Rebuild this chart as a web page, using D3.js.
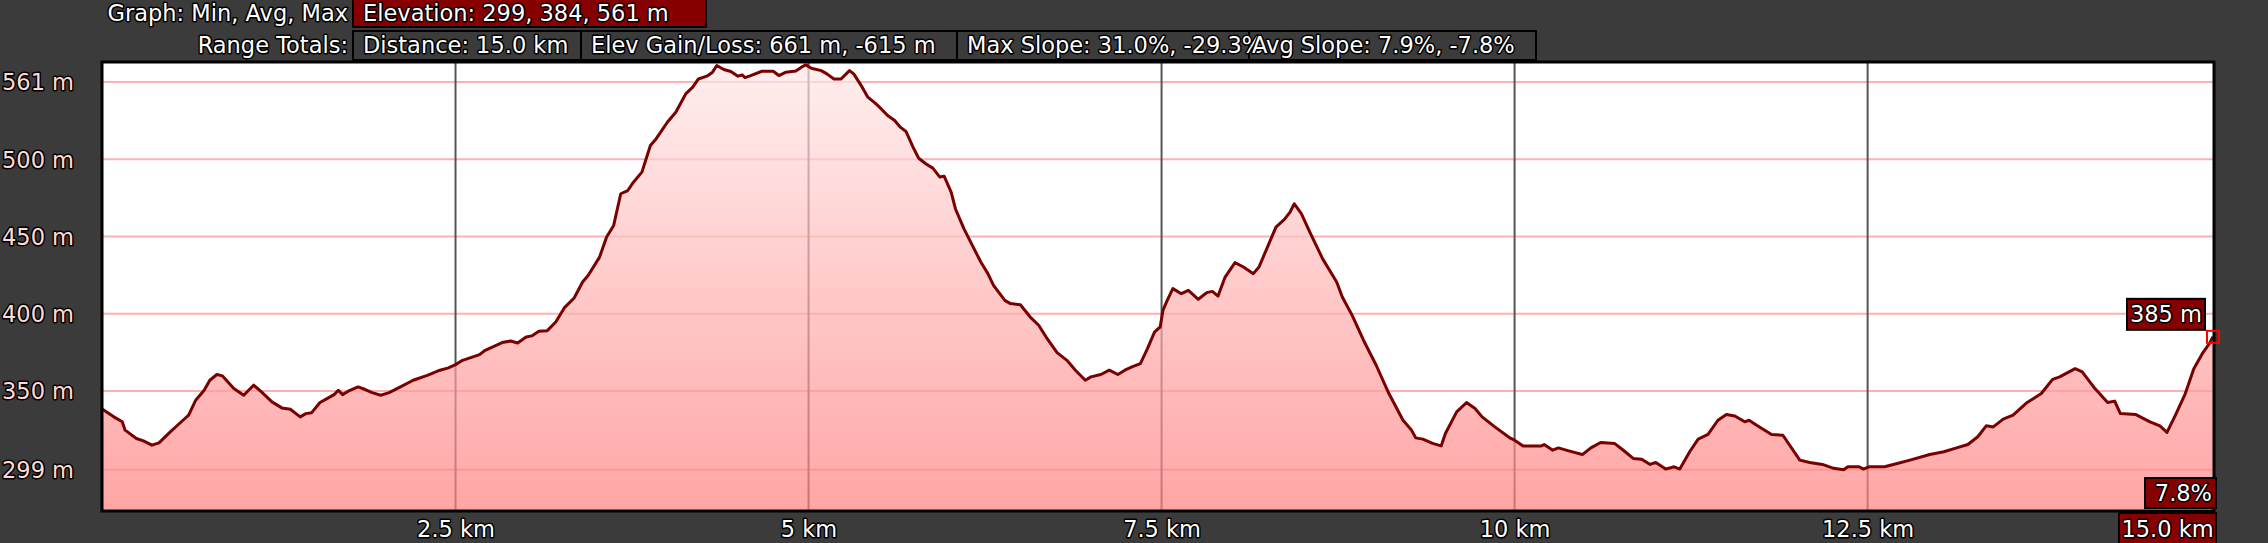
<!DOCTYPE html>
<html><head><meta charset="utf-8">
<script src="https://cdn.jsdelivr.net/npm/d3@7"></script>
<style>
html,body{margin:0;padding:0;background:#3b3b3b;overflow:hidden}
svg{display:block}
text{font-family:"DejaVu Sans",Verdana,sans-serif}
</style></head>
<body>
<script>
// ---- data (distance km, elevation m) ----
const distKm = [0.00,0.08,0.14,0.16,0.24,0.29,0.35,0.40,0.48,0.57,0.61,0.66,0.72,0.76,0.81,0.85,0.93,1.00,1.07,1.12,1.20,1.27,1.33,1.40,1.44,1.48,1.54,1.59,1.64,1.67,1.70,1.74,1.81,1.86,1.91,1.97,2.03,2.11,2.20,2.30,2.39,2.45,2.50,2.55,2.67,2.71,2.83,2.89,2.94,3.00,3.04,3.09,3.15,3.21,3.27,3.34,3.40,3.44,3.52,3.57,3.62,3.67,3.72,3.76,3.82,3.88,3.92,3.96,4.00,4.06,4.13,4.18,4.22,4.28,4.32,4.35,4.40,4.45,4.50,4.53,4.55,4.59,4.67,4.75,4.79,4.84,4.91,4.96,4.98,5.02,5.09,5.13,5.18,5.23,5.29,5.32,5.38,5.42,5.47,5.51,5.56,5.61,5.65,5.69,5.74,5.78,5.83,5.88,5.93,5.96,6.01,6.04,6.10,6.16,6.22,6.27,6.31,6.39,6.43,6.50,6.57,6.63,6.69,6.76,6.83,6.89,6.96,7.00,7.07,7.13,7.19,7.24,7.29,7.35,7.40,7.45,7.49,7.51,7.54,7.58,7.64,7.69,7.76,7.82,7.86,7.90,7.95,8.02,8.08,8.15,8.19,8.25,8.31,8.37,8.41,8.44,8.49,8.55,8.64,8.74,8.78,8.85,8.93,9.02,9.11,9.21,9.27,9.30,9.35,9.42,9.48,9.51,9.59,9.66,9.72,9.77,9.86,9.97,10.00,10.06,10.19,10.21,10.27,10.31,10.39,10.48,10.54,10.61,10.71,10.77,10.84,10.90,10.96,11.00,11.07,11.13,11.17,11.24,11.30,11.37,11.44,11.50,11.56,11.63,11.66,11.72,11.82,11.90,12.02,12.09,12.18,12.26,12.33,12.36,12.44,12.47,12.51,12.62,12.71,12.80,12.94,13.04,13.13,13.21,13.28,13.34,13.39,13.46,13.53,13.63,13.73,13.81,13.86,13.97,14.02,14.11,14.20,14.25,14.29,14.40,14.50,14.57,14.62,14.68,14.75,14.81,14.87,14.92,14.946];
const elevM = [338.1,333.2,330.0,324.6,319.2,317.7,314.9,316.4,323.5,331.0,334.3,344.0,350.4,356.9,360.6,359.7,351.5,347.2,353.7,349.8,342.9,339.0,338.1,333.2,335.3,335.8,342.5,345.0,347.6,350.4,347.6,349.8,352.6,350.9,348.9,347.2,348.9,352.6,356.9,360.1,363.4,364.9,367.0,369.8,373.5,376.3,381.3,382.3,381.0,384.9,385.6,388.6,389.0,394.6,403.7,410.1,420.5,424.8,436.6,449.6,457.1,477.6,479.7,485.1,491.6,508.8,513.1,518.5,523.9,530.4,542.2,546.6,551.9,553.7,556.3,560.6,558.0,556.7,553.7,554.5,552.8,554.1,556.9,556.9,554.1,556.3,557.1,560.1,561.0,558.8,557.3,555.2,551.9,551.9,557.3,555.2,546.6,540.1,536.4,533.0,528.2,525.0,520.7,517.9,507.8,500.6,497.0,494.2,488.4,489.0,478.7,467.9,455.0,444.2,433.4,425.9,418.3,408.6,406.5,405.8,397.8,392.5,383.8,374.8,369.8,363.4,356.9,359.1,360.6,363.4,360.6,363.4,365.5,367.7,377.4,388.0,391.4,402.2,408.6,416.2,412.9,415.1,409.3,413.6,414.4,411.4,423.7,433.0,430.2,425.9,430.2,443.1,456.0,461.0,465.7,471.1,464.7,452.8,435.6,420.5,410.8,398.9,382.8,366.6,348.3,331.0,324.6,319.6,318.8,316.0,314.4,322.4,336.4,342.5,338.6,333.2,326.7,319.4,318.1,314.4,314.4,315.3,311.6,313.1,311.0,308.8,313.1,316.6,315.9,311.6,306.3,305.8,302.4,303.7,299.4,300.9,299.4,310.6,318.8,321.8,331.0,334.7,333.8,330.0,331.0,327.4,321.8,321.3,305.2,303.7,302.4,299.9,299.0,300.9,300.9,299.4,300.9,300.9,303.0,305.2,308.8,310.6,313.1,315.3,320.3,327.4,326.7,331.7,334.3,342.5,348.3,357.5,359.1,364.4,362.3,351.5,342.5,343.4,335.3,334.7,330.0,327.4,323.1,334.3,348.3,364.4,374.1,380.6,385.0];

const xTickValues = [2.5, 5, 7.5, 10, 12.5];
const xTickLabels = ["2.5 km", "5 km", "7.5 km", "10 km", "12.5 km"];
const yTickValues = [299, 350, 400, 450, 500, 550];
const yTickLabels = ["299 m", "350 m", "400 m", "450 m", "500 m", "561 m"];

const headerRow1Label = "Graph: Min, Avg, Max";
const headerRow1Box = "Elevation: 299, 384, 561 m";
const headerRow2Label = "Range Totals:";
const headerRow2Boxes = ["Distance: 15.0 km", "Elev Gain/Loss: 661 m, -615 m", "Max Slope: 31.0%, -29.3%", "Avg Slope: 7.9%, -7.8%"];
const cursorSlope = "7.8%";
const totalDistanceLabel = "15.0 km";

// ---- layout ----
const W = 2268, H = 543;
const P = {l: 102, r: 2214, t: 62, b: 511};
const FONT = "'DejaVu Sans', Verdana, sans-serif";
const FS = "22.5px";

const svg = d3.select("body").append("svg").attr("width", W).attr("height", H);
svg.append("rect").attr("width", W).attr("height", H).attr("fill", "#3b3b3b");

const x = d3.scaleLinear().domain([0, d3.max(distKm)]).range([P.l + 0.5, P.r - 1]);
const y = d3.scaleLinear().domain([299, 561]).range([469.7, 64.9]);

const data = distKm.map((d, i) => [d, elevM[i]]);

// plot background
svg.append("rect").attr("x", P.l).attr("y", P.t).attr("width", P.r - P.l).attr("height", P.b - P.t).attr("fill", "#ffffff");

// gradient
const defs = svg.append("defs");
const grad = defs.append("linearGradient").attr("id", "fillGrad")
  .attr("gradientUnits", "userSpaceOnUse").attr("x1", 0).attr("x2", 0).attr("y1", P.t).attr("y2", P.b);
grad.append("stop").attr("offset", "0%").attr("stop-color", "#ffe8e8");
grad.append("stop").attr("offset", "100%").attr("stop-color", "#ff8080");

// grid lines
const grid = svg.append("g");
grid.selectAll("line.h").data(yTickValues).join("line").attr("class", "h")
  .attr("x1", P.l).attr("x2", P.r).attr("y1", d => y(d)).attr("y2", d => y(d))
  .attr("stroke", "#ffb0b0").attr("stroke-width", 2);
grid.selectAll("line.v").data(xTickValues).join("line").attr("class", "v")
  .attr("y1", P.t).attr("y2", P.b).attr("x1", d => x(d)).attr("x2", d => x(d))
  .attr("stroke", "#555555").attr("stroke-width", 2);

// area + line
const area = d3.area().x(d => x(d[0])).y0(P.b).y1(d => y(d[1]));
svg.append("path").datum(data).attr("d", area).attr("fill", "url(#fillGrad)").attr("fill-opacity", 0.7);
const line = d3.line().x(d => x(d[0])).y(d => y(d[1]));
svg.append("path").datum(data).attr("d", line).attr("fill", "none")
  .attr("stroke", "#7a0000").attr("stroke-width", 3).attr("stroke-linejoin", "round");

// plot border
svg.append("rect").attr("x", P.l).attr("y", P.t).attr("width", P.r - P.l).attr("height", P.b - P.t)
  .attr("fill", "none").attr("stroke", "#000").attr("stroke-width", 3);

function outlined(sel) {
  return sel.attr("stroke", "#000").attr("stroke-width", 3).attr("stroke-linejoin", "round")
    .attr("paint-order", "stroke").style("font-family", FONT).style("font-size", FS);
}

// y axis labels
const yAxis = svg.append("g").attr("transform", `translate(${P.l},0)`)
  .call(d3.axisLeft(y).tickValues(yTickValues).tickFormat((d, i) => yTickLabels[i]).tickSize(0));
yAxis.select(".domain").remove();
outlined(yAxis.selectAll("text")).attr("x", -P.l + 2).attr("text-anchor", "start")
  .attr("dy", "0.35em").attr("fill", "#ffd8d8");

// x axis labels
const xAxis = svg.append("g").attr("transform", `translate(0,${P.b})`)
  .call(d3.axisBottom(x).tickValues(xTickValues).tickFormat((d, i) => xTickLabels[i]).tickSize(0));
xAxis.select(".domain").remove();
outlined(xAxis.selectAll("text")).attr("y", 18).attr("dy", "0.35em").attr("fill", "#ffffff");

// header
outlined(svg.append("text").attr("x", 348).attr("y", 21).attr("text-anchor", "end")
  .attr("fill", "#fff").text(headerRow1Label));
svg.append("rect").attr("x", 353).attr("y", -2).attr("width", 353).attr("height", 29)
  .attr("fill", "#870000").attr("stroke", "#000").attr("stroke-width", 2);
outlined(svg.append("text").attr("x", 363).attr("y", 21).attr("fill", "#fff").text(headerRow1Box));

outlined(svg.append("text").attr("x", 348).attr("y", 53).attr("text-anchor", "end")
  .attr("fill", "#fff").text(headerRow2Label));
const boxEdges = [353, 581, 957, 1249, 1536];
const textStart = [363, 591, 967, 1252];
headerRow2Boxes.forEach((t, i) => {
  svg.append("rect").attr("x", boxEdges[i]).attr("y", 31).attr("width", boxEdges[i + 1] - boxEdges[i]).attr("height", 29)
    .attr("fill", "#3b3b3b").attr("stroke", "#000").attr("stroke-width", 2);
});
headerRow2Boxes.forEach((t, i) => {
  outlined(svg.append("text").attr("x", textStart[i]).attr("y", 53).attr("fill", "#fff").text(t));
});

// end marker
const last = data[data.length - 1];
const ex = x(last[0]), ey = y(last[1]);
svg.append("rect").attr("x", ex - 6).attr("y", ey - 6).attr("width", 12).attr("height", 12)
  .attr("fill", "none").attr("stroke", "#ff0000").attr("stroke-width", 2);

function labelBox(x0, y0, w, h, txt, anchor) {
  svg.append("rect").attr("x", x0).attr("y", y0).attr("width", w).attr("height", h)
    .attr("fill", "#870000").attr("stroke", "#000").attr("stroke-width", 2);
  outlined(svg.append("text").attr("x", anchor === "end" ? x0 + w - 4 : x0 + w / 2).attr("y", y0 + h / 2)
    .attr("dy", "0.36em").attr("text-anchor", anchor || "middle").attr("fill", "#fff").text(txt));
}
labelBox(ex - 86, ey - 38, 78, 31, `${Math.round(last[1])} m`, "middle");
labelBox(2145, 478, 71, 30, cursorSlope, "end");
labelBox(2119, 513, 97, 32, totalDistanceLabel, "middle");
</script>
</body></html>
